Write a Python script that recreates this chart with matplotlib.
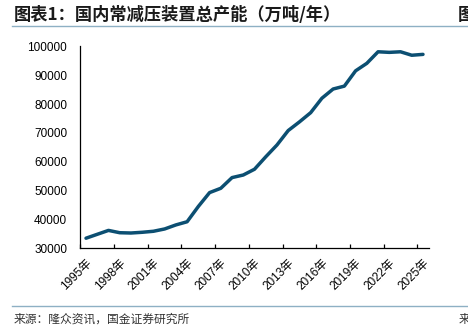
import matplotlib
matplotlib.use("Agg")
import matplotlib.pyplot as plt
from matplotlib.lines import Line2D

# Annual atmospheric-vacuum distillation capacity (10k tonnes / year)
years = list(range(1995, 2026))
capacity = [33500, 34850, 36200, 35400, 35300, 35550, 35900, 36700, 38100, 39200,
            44500, 49300, 50800, 54500, 55400, 57400, 61700, 65800, 70800, 73800,
            77000, 82000, 85200, 86200, 91500, 94100, 98100, 97900, 98100, 96900,
            97200]
yticks = [30000, 40000, 50000, 60000, 70000, 80000, 90000, 100000]
label_step = 3

title = "图表1：国内常减压装置总产能（万吨/年）"
source = "来源：隆众资讯，国金证券研究所"

cjk = ["Noto Sans CJK SC", "DejaVu Sans"]
latin = ["Liberation Sans", "Noto Sans CJK SC"]

fig = plt.figure(figsize=(4.68, 3.29), dpi=100)
ax = fig.add_axes([80.4 / 468, 1 - 248.3 / 329, (428.6 - 80.4) / 468, (248.3 - 46.3) / 329])

x = list(range(len(years)))
ax.plot(x, capacity, color="#0c4f72", linewidth=2.5, solid_joinstyle="round",
        solid_capstyle="round")

ax.set_xlim(-0.5, len(years) - 0.5)
ax.set_ylim(yticks[0], yticks[-1])

for s in ("top", "right"):
    ax.spines[s].set_visible(False)
for s in ("left", "bottom"):
    ax.spines[s].set_linewidth(0.9)
    ax.spines[s].set_color("black")

ax.set_yticks(yticks)
ax.set_yticklabels([str(v) for v in yticks], family=latin, fontsize=8.5)
ax.tick_params(axis="y", length=0, pad=9.5)

# labels every third year, tick marks at category boundaries
lab_pos = x[::label_step]
ax.set_xticks(lab_pos)
ax.set_xticklabels([f"{years[i]}年" for i in lab_pos], family=latin, fontsize=8.5,
                   rotation=45, ha="right", va="top", rotation_mode="anchor")
ax.tick_params(axis="x", which="major", length=0, pad=6.5)
ax.set_xticks([p - 0.5 for p in lab_pos], minor=True)
ax.tick_params(axis="x", which="minor", direction="in", length=3, width=0.9)

# header and footer
fig.text(14 / 468, 1 - 15 / 329, title, family=cjk, fontsize=12.4, fontweight="bold",
         ha="left", va="center", color="#1a1a1a")
fig.text(458 / 468, 1 - 15 / 329, "图", family=cjk, fontsize=12.4, fontweight="bold",
         ha="left", va="center", color="#1a1a1a")
fig.add_artist(Line2D([12 / 468, 1], [1 - 25.5 / 329] * 2, color="#8eb0c4", linewidth=1.0,
                      transform=fig.transFigure))
fig.add_artist(Line2D([12 / 468, 1], [1 - 306 / 329] * 2, color="#8eb0c4", linewidth=1.0,
                      transform=fig.transFigure))
fig.text(14 / 468, 1 - 319 / 329, source, family=cjk, fontsize=8.5,
         ha="left", va="center", color="#333333")
fig.text(459 / 468, 1 - 319 / 329, "来", family=cjk, fontsize=8.5,
         ha="left", va="center", color="#333333")

fig.savefig("out.png", dpi=100)
